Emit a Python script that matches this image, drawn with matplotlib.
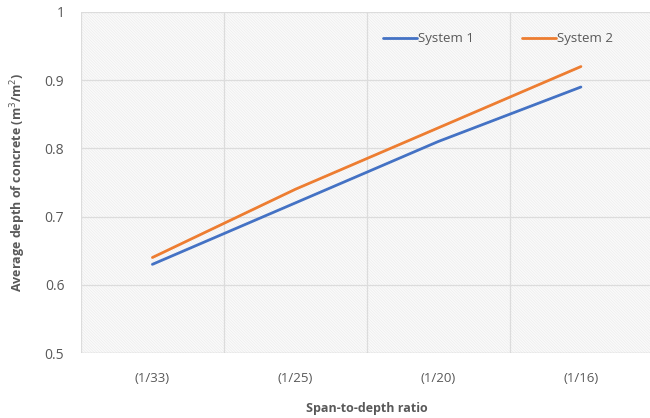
import matplotlib
matplotlib.use("Agg")
import matplotlib.pyplot as plt
from matplotlib.patches import Rectangle
from matplotlib.ticker import FixedLocator

categories = ["(1/33)", "(1/25)", "(1/20)", "(1/16)"]
system1 = [0.63, 0.72, 0.81, 0.89]
system2 = [0.64, 0.74, 0.83, 0.92]
yticks = [0.5, 0.6, 0.7, 0.8, 0.9, 1.0]
ytick_labels = ["0.5", "0.6", "0.7", "0.8", "0.9", "1"]

plt.rcParams["font.family"] = ["Open Sans", "DejaVu Sans"]
plt.rcParams["hatch.color"] = "#ececec"
plt.rcParams["hatch.linewidth"] = 0.5

fig = plt.figure(figsize=(6.5, 4.18), dpi=100)
ax = fig.add_axes([0.1246, 0.1555, 0.879, 0.8158])

x = list(range(len(categories)))
ax.set_xlim(-0.5, len(categories) - 0.5)
ax.set_ylim(0.5, 1.0)

# fine hatched plot-area fill
ax.add_patch(Rectangle((0, 0), 1, 1, transform=ax.transAxes, facecolor="#fbfbfb",
                       hatch="\\" * 12, edgecolor="#ececec", linewidth=0, zorder=0))

grid_color = "#dcdcdc"
for yv in yticks[1:]:
    ax.axhline(yv, color=grid_color, linewidth=0.9, zorder=1)
for xv in [-0.5, 0.5, 1.5, 2.5]:
    ax.axvline(xv, color=grid_color, linewidth=0.9, zorder=1)
ax.axhline(0.5, color="#c8c8c8", linewidth=1.0, zorder=2)

ax.plot(x, system1, color="#4472C4", linewidth=2.0, label="System 1",
        solid_capstyle="round", zorder=3)
ax.plot(x, system2, color="#ED7D31", linewidth=2.0, label="System 2",
        solid_capstyle="round", zorder=3)

for s in ax.spines.values():
    s.set_visible(False)

ax.set_xticks(x)
ax.set_xticklabels(categories, color="#595959", fontsize=9.5)
ax.yaxis.set_major_locator(FixedLocator(yticks))
ax.set_yticklabels(ytick_labels, color="#595959", fontsize=10)
ax.tick_params(axis="both", length=0)
ax.tick_params(axis="x", pad=14)
ax.tick_params(axis="y", pad=12)

ax.set_xlabel("Span-to-depth ratio", fontsize=9, fontweight="bold",
              color="#595959", labelpad=12)
ax.set_ylabel("Average depth of concrete (m$^3$/m$^2$)", fontsize=9,
              fontweight="bold", color="#595959", labelpad=12)

leg = ax.legend(loc="upper center", bbox_to_anchor=(0.73, 0.975), ncol=2,
                frameon=False, fontsize=9.5, handlelength=2.6, handletextpad=0.1,
                columnspacing=3.6)
for t in leg.get_texts():
    t.set_color("#595959")

fig.savefig("out.png", dpi=100)
